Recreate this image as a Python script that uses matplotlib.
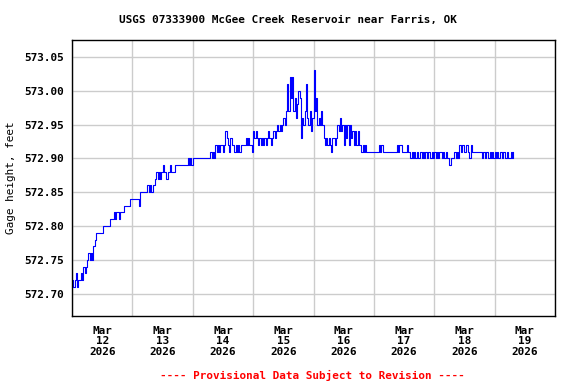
import numpy as np
import pandas as pd
import matplotlib
matplotlib.use("Agg")
import matplotlib.pyplot as plt
import matplotlib.dates as mdates
from matplotlib.ticker import FixedLocator, FormatStrFormatter

# gage height, hundredths of a foot above 572.00, every 30 minutes from Mar 12 00:00
day1 = [72, 71, 72, 73, 71, 72, 72, 73, 72, 74, 73, 74, 75, 76, 75, 76, 75, 77, 78, 79, 79, 79, 79, 79,
        79, 80, 80, 80, 80, 80, 81, 81, 81, 82, 81, 82, 82, 81, 82, 82, 82, 83, 83, 83, 83, 83, 84, 84]
day2 = [84, 84, 84, 84, 84, 83, 85, 85, 85, 85, 85, 85, 86, 85, 86, 85, 86, 86, 87, 88, 87, 88, 87, 88,
        89, 88, 88, 87, 88, 88, 89, 88, 88, 88, 89, 89, 89, 89, 89, 89, 89, 89, 89, 89, 90, 89, 90, 89]
day3 = [90, 90, 90, 90, 90, 90, 90, 90, 90, 90, 90, 90, 90, 90, 91, 90, 91, 90, 92, 91, 92, 91, 92, 92,
        91, 92, 94, 93, 92, 91, 93, 92, 92, 91, 92, 91, 92, 91, 92, 92, 92, 92, 93, 92, 93, 92, 92, 91]
day4 = [94, 93, 94, 93, 92, 93, 92, 93, 92, 93, 92, 93, 94, 93, 92, 93, 94, 93, 94, 95, 94, 95, 94, 95,
        96, 95, 97, 101, 97, 102, 99, 102, 97, 99, 96, 98, 100, 99, 93, 96, 95, 97, 101, 96, 95, 97, 94, 96]
day5 = [103, 97, 99, 95, 96, 95, 97, 95, 93, 92, 93, 92, 93, 92, 91, 93, 93, 92, 93, 95, 94, 96, 94, 95,
        92, 95, 93, 95, 92, 95, 93, 94, 92, 94, 92, 94, 92, 92, 91, 92, 91, 92, 91, 91, 91, 91, 91, 91]
day6 = [91, 91, 91, 91, 92, 91, 92, 91, 91, 91, 91, 91, 91, 91, 91, 91, 91, 91, 92, 91, 92, 92, 91, 91,
        91, 91, 92, 91, 91, 90, 91, 90, 91, 90, 91, 90, 90, 91, 90, 91, 90, 91, 90, 91, 91, 90, 91, 90]
day7 = [91, 90, 91, 90, 91, 91, 90, 91, 90, 91, 90, 90, 89, 90, 90, 90, 91, 90, 91, 90, 92, 91, 92, 92,
        91, 92, 92, 91, 90, 92, 91, 91, 91, 91, 91, 91, 91, 91, 90, 91, 90, 91, 91, 90, 91, 90, 91, 90]
day8 = [91, 90, 91, 90, 91, 91, 90, 91, 90, 90, 91, 90, 90, 91, 90, 91]

y_ticks = [572.70, 572.75, 572.80, 572.85, 572.90, 572.95, 573.00, 573.05]
title = "USGS 07333900 McGee Creek Reservoir near Farris, OK"
ylabel = "Gage height, feet"
note = "---- Provisional Data Subject to Revision ----"

vals = np.array(day1 + day2 + day3 + day4 + day5 + day6 + day7 + day8)
gage = 572.0 + vals / 100.0
times = pd.date_range("2026-03-12 00:00", periods=len(gage), freq="30min")

plt.rcParams["font.family"] = ["DejaVu Sans Mono"]
plt.rcParams["font.weight"] = "bold"
fs = 7.9

fig = plt.figure(figsize=(5.76, 3.84), dpi=100, facecolor="white")
ax = fig.add_axes([72 / 576, 1 - 316 / 384, (555 - 72) / 576, (316 - 40) / 384])

ax.plot(times, gage, color="#0000ff", lw=0.8, drawstyle="steps-post")

ax.set_xlim(pd.Timestamp("2026-03-12"), pd.Timestamp("2026-03-20"))
ax.set_ylim(572.667, 573.075)

ax.xaxis.set_major_locator(mdates.DayLocator())
ax.xaxis.set_major_formatter(plt.NullFormatter())
ax.xaxis.set_minor_locator(mdates.HourLocator(byhour=12))
ax.xaxis.set_minor_formatter(mdates.DateFormatter("%b\n%d\n%Y"))
ax.yaxis.set_major_locator(FixedLocator(y_ticks))
ax.yaxis.set_major_formatter(FormatStrFormatter("%.2f"))

ax.tick_params(axis="both", which="both", length=0, labelsize=fs)
ax.tick_params(axis="x", which="minor", pad=7)
ax.tick_params(axis="y", pad=6)
for lab in ax.get_xticklabels(minor=True):
    lab.set_linespacing(1.05)

ax.grid(True, which="major", color="#cccccc", lw=1.0)
ax.set_axisbelow(True)
for s in ax.spines.values():
    s.set_color("black")
    s.set_linewidth(1.0)

ax.set_ylabel(ylabel, fontsize=fs, labelpad=6)
fig.text(288 / 576, 1 - 20 / 384, title, ha="center", va="center", fontsize=fs, fontweight="bold")
fig.text(312 / 576, 1 - 375 / 384, note, ha="center", va="center", fontsize=fs, fontweight="bold", color="red")

plt.savefig("out.png", dpi=100, facecolor="white")
